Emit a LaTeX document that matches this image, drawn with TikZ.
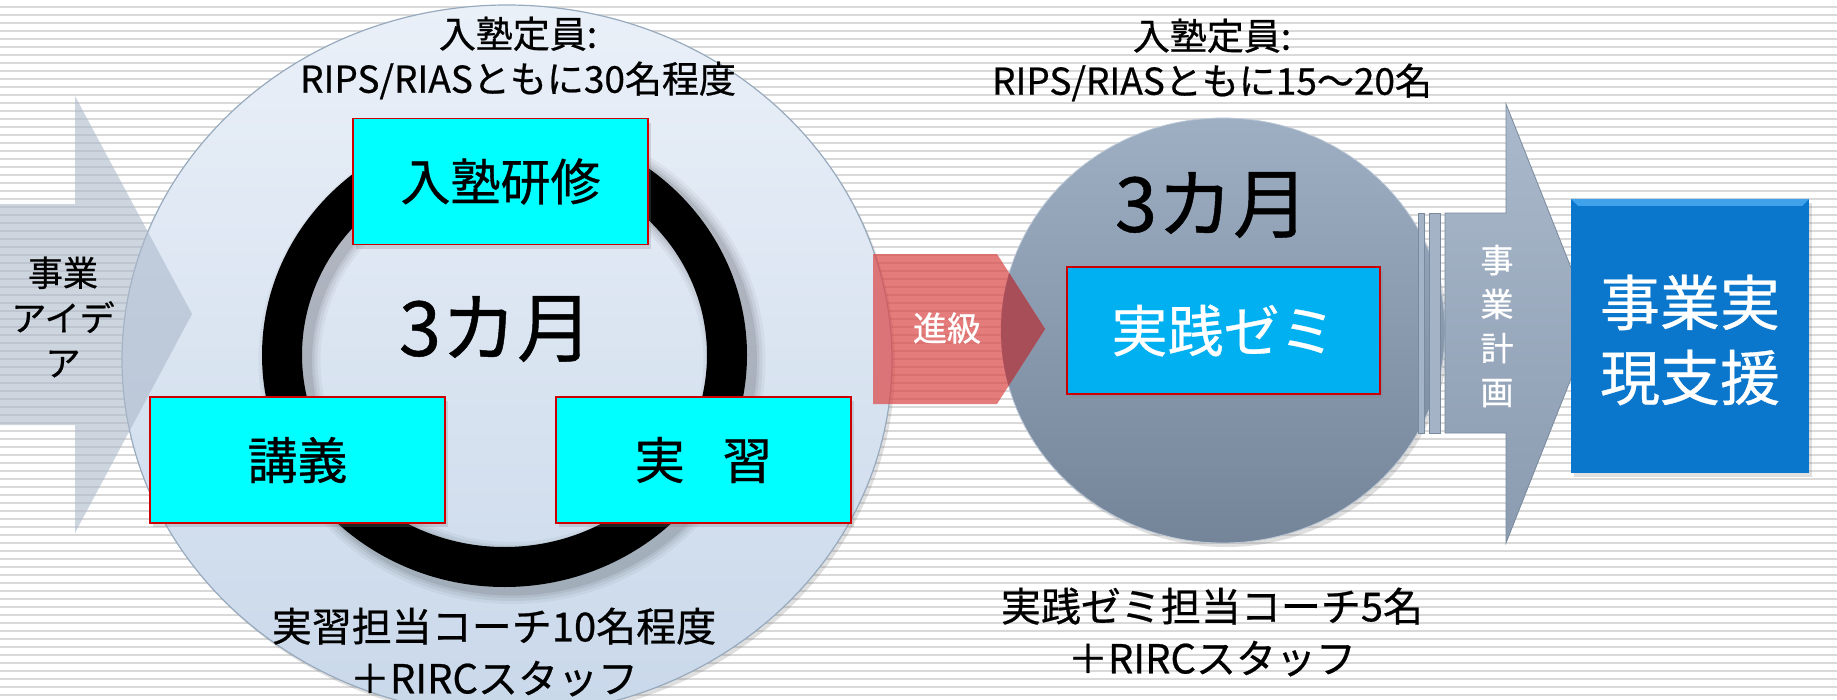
\documentclass[tikz,border=0pt]{standalone}
\usepackage{fontspec}
\setmainfont{Noto Sans CJK JP}[RawFeature={embolden=0.6}]
\usetikzlibrary{shapes.geometric,shadows}
\definecolor{stripecol}{HTML}{D9D9D9}
\definecolor{bigtop}{HTML}{EAF0F8}
\definecolor{bigbot}{HTML}{C9D8EA}
\definecolor{bigedge}{HTML}{98AABD}
\definecolor{leftarrow}{HTML}{ACB9CB}
\definecolor{boxred}{HTML}{CC0000}
\definecolor{boxcyan}{HTML}{00FFFF}
\definecolor{redarrow}{HTML}{DB4545}
\definecolor{redover}{HTML}{A84E58}
\definecolor{grtop}{HTML}{9EAFC3}
\definecolor{grbot}{HTML}{74859A}
\definecolor{zemiblue}{HTML}{00B0F0}
\definecolor{plantop}{HTML}{AAB9CB}
\definecolor{planbot}{HTML}{8B9BB0}
\definecolor{planedge}{HTML}{7A8A9E}
\definecolor{supblue}{HTML}{0A77CC}
\definecolor{supbevel}{HTML}{3FA2EA}
\newcommand\FS[2]{\fontsize{#1}{#2}\selectfont}
\begin{document}
\begin{tikzpicture}[x=1pt,y=-1pt,
  stripeline/.style={stripecol, line width=1.8pt},
  softshadow/.style={drop shadow={shadow xshift=3pt,shadow yshift=-4pt,opacity=0.25}},
  cbox/.style={draw=boxred, line width=1.5pt, fill=boxcyan, minimum width=295pt,
    minimum height=126pt, inner sep=0pt, font=\FS{50}{60}, softshadow},
  captext/.style={align=center, font=\FS{37}{45}},
  coachtext/.style={align=center, font=\FS{40}{52}},
  monthtext/.style={font=\FS{76}{90}}]
\useasboundingbox (0,0) rectangle (1837,699);
\clip (0,0) rectangle (1837,699);
\fill[white] (0,0) rectangle (1837,699);
\foreach \k in {0,...,86} \draw[stripeline] (0,{7+8*\k}) -- (1837,{7+8*\k});

% big left ellipse
\node[ellipse, minimum width=770pt, minimum height=710pt, inner sep=0pt,
  draw=bigedge, line width=1.2pt, top color=bigtop, bottom color=bigbot,
  softshadow] (bigcirc) at (507,360) {};

% left arrow
\fill[leftarrow, fill opacity=0.6] (0,204) -- (75,204) -- (75,96) -- (192,314)
  -- (75,533) -- (75,425) -- (0,425) -- cycle;
\node[font=\FS{35}{45}, align=center] (idea) at (63,317) {事業\\アイデ\\ア};

% ring shadow and ring
\foreach \w/\o in {62/0.04,56/0.05,50/0.06,45/0.08}
  \draw[black, line width=\w pt, opacity=\o] (512,361) ellipse [x radius=222.5pt, y radius=212pt];
\draw[black, line width=40pt] (504.5,355) ellipse [x radius=222.5pt, y radius=212pt];

% boxes in ring
\node[cbox] (kenshu) at (500.5,181.5) {入塾研修};
\node[cbox] (kogi) at (297.5,460) {講義};
\node[cbox] (jisshu) at (703.5,460) {実\hspace{0.75em}習};
\node[monthtext] (m1) at (496,329) {3カ月};
\node[captext] (cap1) at (518,58) {入塾定員:\\RIPS/RIASともに30名程度};
\node[coachtext] (coach1) at (494,652) {実習担当コーチ10名程度\\＋RIRCスタッフ};

% right circle
\node[ellipse, minimum width=444pt, minimum height=425pt, inner sep=0pt,
  draw=grtop!70!white, line width=0.8pt, top color=grtop, bottom color=grbot,
  softshadow] (zemicirc) at (1223,330.5) {};

% red arrow
\fill[redarrow, fill opacity=0.7] (873,254) -- (997,254) -- (1045,329) -- (997,404) -- (873,404) -- cycle;
\begin{scope}
  \clip (1223,330.5) ellipse [x radius=222pt, y radius=212.5pt];
  \fill[redover] (873,254) -- (997,254) -- (1045,329) -- (997,404) -- (873,404) -- cycle;
\end{scope}
\node[white, font=\FS{34}{40}] (shinkyu) at (947,328) {進級};

% zemi box
\node[draw=boxred, line width=1.5pt, fill=zemiblue, minimum width=313pt,
  minimum height=127pt, inner sep=0pt, text=white, font=\FS{56}{66}, softshadow]
  (zemi) at (1223.5,330.5) {実践ゼミ};
\node[monthtext] (m2) at (1212,205) {3カ月};
\node[captext] (cap2) at (1212,60) {入塾定員:\\RIPS/RIASともに15～20名};
\node[coachtext] (coach2) at (1212,632) {実践ゼミ担当コーチ5名\\＋RIRCスタッフ};

% plan arrow
\draw[planedge, line width=0.8pt, fill=plantop!80!planbot] (1418,213) rectangle (1424,433);
\draw[planedge, line width=0.8pt, fill=plantop!80!planbot] (1429,213) rectangle (1440,433);
\draw[planedge, line width=0.8pt, top color=plantop, bottom color=planbot]
  (1445,213) -- (1506,213) -- (1506,104) -- (1593,323) -- (1506,543)
  -- (1506,433) -- (1445,433) -- cycle;
\node[white, font=\FS{33}{44}, align=center] (plan) at (1497,326) {事\\業\\計\\画};

% support box
\node[fill=supblue, minimum width=238pt, minimum height=274pt, inner sep=0pt,
  softshadow] (support) at (1690,336) {};
\fill[supbevel] (support.north west) -- (support.north east)
  -- ([xshift=-7pt,yshift=-7pt]support.north east)
  -- ([xshift=7pt,yshift=-7pt]support.north west) -- cycle;
\node[white, font=\FS{60}{75}, align=center] (supporttext) at (1690,340) {事業実\\現支援};
\end{tikzpicture}
\end{document}
